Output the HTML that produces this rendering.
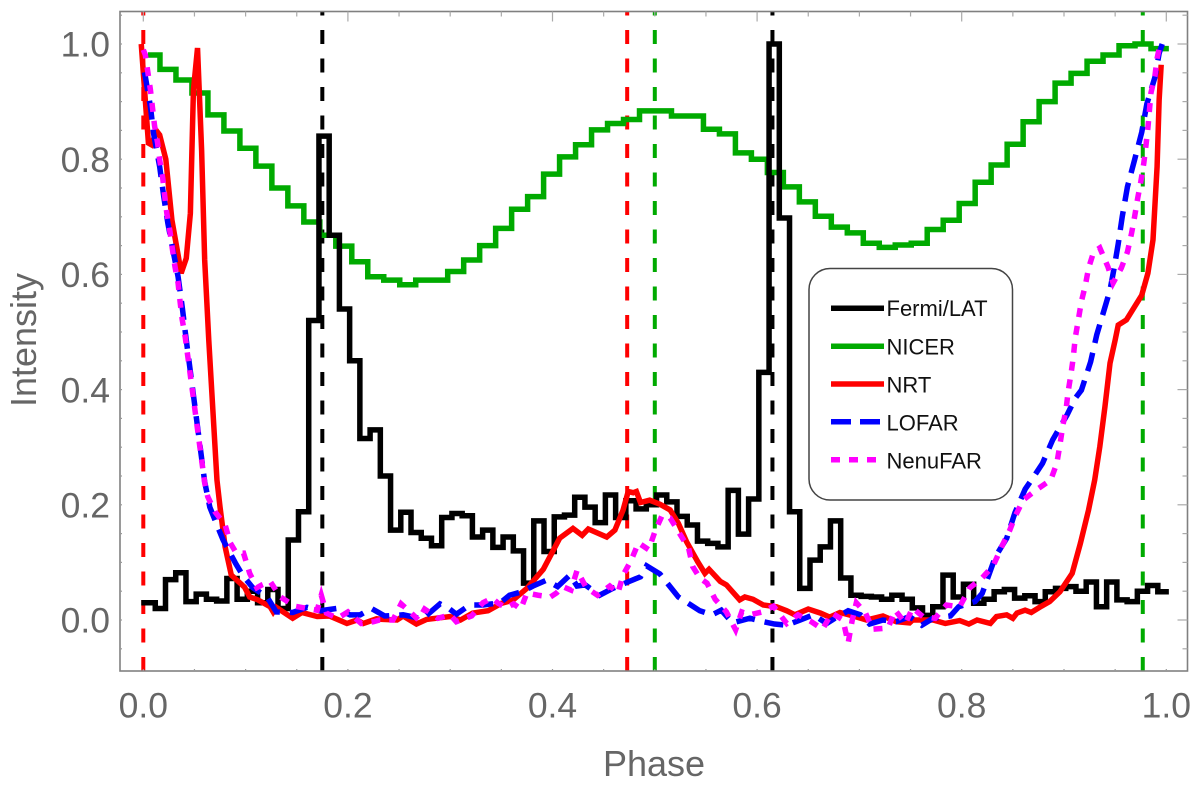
<!DOCTYPE html>
<html>
<head>
<meta charset="utf-8">
<title>Phase profile chart</title>
<style>
html,body{margin:0;padding:0;background:#fff;}
svg{display:block;font-family:"Liberation Sans",sans-serif;}
</style>
</head>
<body>
<svg id="chart" xmlns="http://www.w3.org/2000/svg" width="1200" height="788" viewBox="0 0 1200 788">
<rect x="0" y="0" width="1200" height="788" fill="#fff"/>
<g id="vlines"></g>
<g id="series"></g>
<g id="axes"></g>
<text x="654" y="776" font-size="36" fill="#666" text-anchor="middle">Phase</text>
<text transform="translate(36,340) rotate(-90)" font-size="36" fill="#666" text-anchor="middle">Intensity</text>
<g>
<rect x="809" y="268.5" width="203.5" height="231.5" rx="21" ry="21" fill="#fff" stroke="#444" stroke-width="1.5"/>
<line x1="831" x2="884" y1="308.3" y2="308.3" stroke="#000" stroke-width="5.5"/>
<text x="886.5" y="316" font-size="22" fill="#111">Fermi/LAT</text>
<line x1="831" x2="884" y1="346.3" y2="346.3" stroke="#00aa00" stroke-width="5.5"/>
<text x="886.5" y="354.3" font-size="22" fill="#111">NICER</text>
<line x1="831" x2="884" y1="384" y2="384" stroke="#ff0000" stroke-width="5.5"/>
<text x="886.5" y="392.5" font-size="22" fill="#111">NRT</text>
<line x1="831" x2="880" y1="421.7" y2="421.7" stroke="#0000ff" stroke-width="5.5" stroke-dasharray="20 9"/>
<text x="886.5" y="430.3" font-size="22" fill="#111">LOFAR</text>
<line x1="831" x2="877" y1="459.7" y2="459.7" stroke="#ff00ff" stroke-width="5.5" stroke-dasharray="9 9"/>
<text x="886.5" y="468.3" font-size="22" fill="#111">NenuFAR</text>
</g>
</svg>
<script>
var xTickLabels = ["0.0","0.2","0.4","0.6","0.8","1.0"];
var yTickLabels = ["0.0","0.2","0.4","0.6","0.8","1.0"];
var xMinorTicks = [0.05,0.1,0.15,0.25,0.3,0.35,0.45,0.5,0.55,0.65,0.7,0.75,0.85,0.9,0.95];
var yMinorTicks = [-0.05,0.05,0.1,0.15,0.25,0.3,0.35,0.45,0.5,0.55,0.65,0.7,0.75,0.85,0.9,0.95,1.05];
var redMarkers = [0, 0.473];
var greenMarkers = [0.5, 0.977];
var blackMarkers = [0.175, 0.615];

var fermiValues = [0.03,0.02,0.07,0.082,0.032,0.045,0.036,0.033,0.072,0.036,
0.05,0.03,0.053,0.02,0.139,0.188,0.52,0.84,0.668,0.54,
0.45,0.315,0.33,0.25,0.156,0.187,0.152,0.142,0.129,0.178,
0.185,0.181,0.144,0.156,0.126,0.144,0.12,0.064,0.172,0.119,
0.179,0.182,0.213,0.196,0.169,0.217,0.178,0.207,0.193,0.2,
0.217,0.205,0.18,0.165,0.137,0.133,0.127,0.225,0.149,0.21,
0.43,1.0,0.698,0.188,0.055,0.104,0.127,0.172,0.073,0.043,
0.041,0.04,0.036,0.043,0.036,0.021,0.008,0.023,0.078,0.04,
0.062,0.029,0.036,0.049,0.053,0.038,0.042,0.032,0.049,0.055,
0.058,0.05,0.066,0.023,0.066,0.035,0.032,0.05,0.06,0.049];

var nicerValues = [0.981,0.956,0.9375,0.915,0.877,0.849,0.819,0.788,0.75,0.719,
0.691,0.668,0.649,0.622,0.596,0.59,0.582,0.59,0.59,0.605,
0.625,0.65,0.68,0.713,0.735,0.774,0.804,0.825,0.851,0.862,
0.869,0.884,0.884,0.875,0.875,0.852,0.844,0.811,0.8,0.777,
0.752,0.726,0.701,0.682,0.672,0.654,0.647,0.651,0.654,0.678,
0.694,0.723,0.76,0.79,0.826,0.865,0.9,0.932,0.949,0.97,
0.981,0.997,1.0,0.992];

var nrtPhases = [-0.002,0.005,0.008,0.013,0.016,0.022,0.028,0.034,0.037,0.042,0.046,0.049,0.053,0.057,0.06,0.064,0.072,0.075,0.08,0.086,0.099,0.104,0.112,0.124,0.127,0.13,0.146,0.155,0.17,0.182,0.199,0.209,0.215,0.228,0.234,0.248,0.254,0.267,0.277,0.3,0.31,0.322,0.337,0.35,0.361,0.375,0.391,0.407,0.42,0.429,0.435,0.453,0.461,0.469,0.474,0.479,0.482,0.486,0.495,0.505,0.515,0.523,0.531,0.542,0.549,0.553,0.564,0.57,0.583,0.588,0.596,0.606,0.619,0.629,0.637,0.65,0.662,0.671,0.681,0.694,0.707,0.723,0.736,0.749,0.752,0.772,0.784,0.798,0.807,0.815,0.828,0.834,0.844,0.85,0.854,0.862,0.868,0.878,0.886,0.896,0.908,0.916,0.924,0.93,0.935,0.94,0.945,0.95,0.953,0.961,0.969,0.976,0.982,0.987,0.991,0.993,0.995];
var nrtValues = [1.0,0.828,0.825,0.849,0.842,0.8,0.694,0.634,0.602,0.628,0.706,0.92,0.993,0.816,0.625,0.486,0.243,0.196,0.127,0.078,0.057,0.04,0.035,0.023,0.014,0.022,0.003,0.013,0.006,0.007,-0.006,0,-0.006,0.002,0.001,0,0.007,-0.007,0.001,0.006,0,0.012,0.016,0.029,0.034,0.055,0.088,0.142,0.159,0.147,0.158,0.144,0.156,0.191,0.223,0.221,0.223,0.204,0.208,0.201,0.191,0.168,0.136,0.101,0.081,0.088,0.067,0.061,0.035,0.04,0.036,0.026,0.023,0.016,0.009,0.019,0.012,0.005,0.013,0.007,0,0.007,-0.003,-0.005,0,0,-0.006,-0.001,-0.007,0,-0.006,0.006,0.009,0.003,0.012,0.017,0.013,0.024,0.032,0.049,0.081,0.133,0.191,0.243,0.301,0.37,0.446,0.486,0.512,0.521,0.544,0.564,0.602,0.66,0.787,0.903,0.964];

var lofarPhases = [0.001,0.002,0.007,0.01,0.016,0.02,0.024,0.029,0.034,0.038,0.042,0.06,0.065,0.072,0.078,0.09,0.097,0.107,0.121,0.13,0.146,0.16,0.173,0.189,0.202,0.212,0.223,0.236,0.254,0.273,0.29,0.298,0.306,0.319,0.332,0.349,0.358,0.37,0.381,0.394,0.405,0.417,0.424,0.432,0.446,0.459,0.471,0.486,0.492,0.505,0.523,0.544,0.556,0.565,0.576,0.593,0.606,0.617,0.629,0.642,0.655,0.668,0.676,0.689,0.701,0.71,0.723,0.736,0.749,0.761,0.772,0.789,0.797,0.813,0.82,0.833,0.844,0.852,0.862,0.872,0.879,0.889,0.903,0.911,0.917,0.926,0.932,0.945,0.949,0.953,0.957,0.962,0.969,0.976,0.981,0.989,0.993,0.996];
var lofarValues = [0.951,0.943,0.891,0.845,0.787,0.735,0.689,0.642,0.596,0.544,0.486,0.24,0.196,0.165,0.139,0.099,0.078,0.056,0.04,0.014,0.013,0.022,0.016,0.02,0.009,0.009,0.02,0.007,0.009,0.002,0.028,0.021,0.01,0.026,0.026,0.03,0.043,0.049,0.059,0.069,0.058,0.078,0.059,0.061,0.043,0.055,0.064,0.075,0.094,0.08,0.04,0.016,0.009,0.017,-0.005,0.003,-0.003,-0.007,-0.009,0,0.009,-0.006,0.003,0.016,0.009,-0.007,0,-0.003,0.006,-0.009,0.003,0.007,0.023,0.032,0.046,0.11,0.142,0.186,0.227,0.253,0.272,0.313,0.356,0.385,0.399,0.448,0.495,0.573,0.611,0.653,0.701,0.752,0.799,0.847,0.896,0.943,0.984,1.0];

var nenuPhases = [0,0.002,0.007,0.009,0.011,0.014,0.016,0.019,0.021,0.023,0.026,0.029,0.031,0.034,0.036,0.038,0.041,0.06,0.063,0.07,0.08,0.085,0.091,0.098,0.104,0.111,0.116,0.124,0.134,0.148,0.16,0.17,0.174,0.179,0.19,0.2,0.213,0.225,0.231,0.244,0.252,0.262,0.269,0.275,0.288,0.3,0.306,0.321,0.332,0.341,0.347,0.355,0.362,0.369,0.375,0.386,0.398,0.404,0.41,0.418,0.424,0.433,0.444,0.456,0.464,0.469,0.477,0.484,0.494,0.5,0.507,0.515,0.525,0.533,0.537,0.544,0.551,0.559,0.57,0.579,0.585,0.593,0.605,0.616,0.629,0.64,0.653,0.664,0.673,0.684,0.689,0.693,0.697,0.706,0.713,0.728,0.735,0.745,0.752,0.762,0.774,0.785,0.798,0.808,0.82,0.831,0.839,0.847,0.852,0.86,0.873,0.887,0.893,0.896,0.899,0.902,0.904,0.907,0.909,0.911,0.914,0.917,0.921,0.924,0.929,0.935,0.943,0.948,0.956,0.962,0.966,0.969,0.972,0.975,0.978,0.98,0.982,0.985,0.989,0.991,0.994];
var nenuValues = [0.99,0.981,0.92,0.889,0.858,0.828,0.799,0.767,0.735,0.706,0.675,0.637,0.613,0.585,0.552,0.522,0.491,0.238,0.214,0.188,0.165,0.134,0.116,0.116,0.081,0.056,0.061,0.067,0.04,0.024,0.02,0.017,0.043,0.012,0.003,0.014,-0.006,-0.003,0,0,0.028,0.012,0,0.019,0.003,0.009,-0.003,0.007,0.03,0.038,0.029,0.021,0.028,0.019,0.047,0.043,0.04,0.047,0.058,0.052,0.086,0.056,0.043,0.059,0.047,0.078,0.104,0.134,0.122,0.153,0.181,0.177,0.148,0.125,0.093,0.073,0.064,0.036,0.014,-0.017,0.014,0.009,0.014,0.024,-0.006,0.009,-0.003,-0.016,0.012,0,-0.04,0,0.03,0.012,-0.016,-0.014,0.017,-0.006,0.021,0.006,0.003,0.026,0.023,0.056,0.073,0.095,0.127,0.156,0.179,0.208,0.226,0.243,0.272,0.304,0.339,0.365,0.396,0.429,0.455,0.49,0.521,0.553,0.582,0.611,0.639,0.646,0.613,0.585,0.611,0.639,0.671,0.7,0.732,0.76,0.793,0.822,0.854,0.915,0.946,0.975,1.0];

var SVGNS = "http://www.w3.org/2000/svg";
function xScale(p){ return 143.3 + p * 1023; }
function yScale(v){ return 620 - v * 576; }
var plotLeft = 120, plotRight = 1187.5, plotTop = 11.5, plotBottom = 671;

function make(tag, attrs, parent){
  var el = document.createElementNS(SVGNS, tag);
  for (var k in attrs) el.setAttribute(k, attrs[k]);
  parent.appendChild(el);
  return el;
}

var vGroup = document.getElementById("vlines");
function drawMarkers(list, color, name){
  list.forEach(function(p){
    var ln = make("line", {x1:xScale(p), x2:xScale(p), y1:plotBottom, y2:plotTop, stroke:color, "stroke-width":4, "stroke-dasharray":"14 14.5"}, vGroup);
    
    
  });
}
drawMarkers(redMarkers, "#ff0000", "red-phase-marker");
drawMarkers(greenMarkers, "#00aa00", "green-phase-marker");
drawMarkers(blackMarkers, "#000000", "black-phase-marker");

function stepPath(values, firstEdge, startPhase, endPhase){
  var w = 1 / values.length;
  var d = "";
  var px = startPhase;
  for (var i = 0; i < values.length; i++){
    var right = i === values.length - 1 ? endPhase : firstEdge + i * w;
    d += (i === 0 ? "M" : "L") + xScale(px).toFixed(2) + " " + yScale(values[i]).toFixed(2);
    d += "L" + xScale(right).toFixed(2) + " " + yScale(values[i]).toFixed(2);
    px = right;
  }
  return d;
}
function linePath(ph, vals){
  var d = "";
  for (var i = 0; i < ph.length; i++){
    d += (i === 0 ? "M" : "L") + xScale(ph[i]).toFixed(2) + " " + yScale(vals[i]).toFixed(2);
  }
  return d;
}

var sGroup = document.getElementById("series");
var nicerLine = make("path", {d:stepPath(nicerValues, 0.0163, 0.0046, 1.0025), fill:"none", stroke:"#00aa00", "stroke-width":5.5, "stroke-linejoin":"miter"}, sGroup);


var fermiLine = make("path", {d:stepPath(fermiValues, 0.0117, -0.002, 1.0025), fill:"none", stroke:"#000000", "stroke-width":5.5, "stroke-linejoin":"miter"}, sGroup);


var nrtLine = make("path", {d:linePath(nrtPhases, nrtValues), fill:"none", stroke:"#ff0000", "stroke-width":5.5, "stroke-linejoin":"miter"}, sGroup);


var lofarLine = make("path", {d:linePath(lofarPhases, lofarValues), fill:"none", stroke:"#0000ff", "stroke-width":5.5, "stroke-dasharray":"19 10"}, sGroup);


var nenuLine = make("path", {d:linePath(nenuPhases, nenuValues), fill:"none", stroke:"#ff00ff", "stroke-width":5.5, "stroke-dasharray":"9 9"}, sGroup);



var aGroup = document.getElementById("axes");
var frame = make("rect", {x:plotLeft, y:plotTop, width:plotRight-plotLeft, height:plotBottom-plotTop, fill:"none", stroke:"#808080", "stroke-width":1.6}, aGroup);



function tickV(p, topLen, botLen){
  var x = xScale(p);
  var a = make("line", {x1:x, x2:x, y1:plotTop, y2:plotTop+topLen, stroke:"#aaa", "stroke-width":1.2}, aGroup);
  
  
  var b = make("line", {x1:x, x2:x, y1:plotBottom, y2:plotBottom-botLen, stroke:"#999", "stroke-width":1.2}, aGroup);
  
  
}
function tickH(v, rightLen, leftLen){
  var y = yScale(v);
  var a = make("line", {x1:plotRight, x2:plotRight-rightLen, y1:y, y2:y, stroke:"#aaa", "stroke-width":1.2}, aGroup);
  
  
  var b = make("line", {x1:plotLeft, x2:plotLeft+leftLen, y1:y, y2:y, stroke:"#999", "stroke-width":1.2}, aGroup);
  
  
}
xMinorTicks.forEach(function(p){ tickV(p, 5, 2); });
yMinorTicks.forEach(function(v){ tickH(v, 5, 2); });
xTickLabels.forEach(function(lbl){
  var p = parseFloat(lbl);
  tickV(p, 10, 2);
  var t = make("text", {x:xScale(p), y:717.5, "font-size":35.5, fill:"#666", "text-anchor":"middle"}, aGroup);
  t.textContent = lbl;
  
  
});
yTickLabels.forEach(function(lbl){
  var v = parseFloat(lbl);
  tickH(v, 10, 2);
  var t = make("text", {x:110, y:yScale(v)+12.7, "font-size":35.5, fill:"#666", "text-anchor":"end"}, aGroup);
  t.textContent = lbl;
  
  
});
</script>
</body>
</html>
